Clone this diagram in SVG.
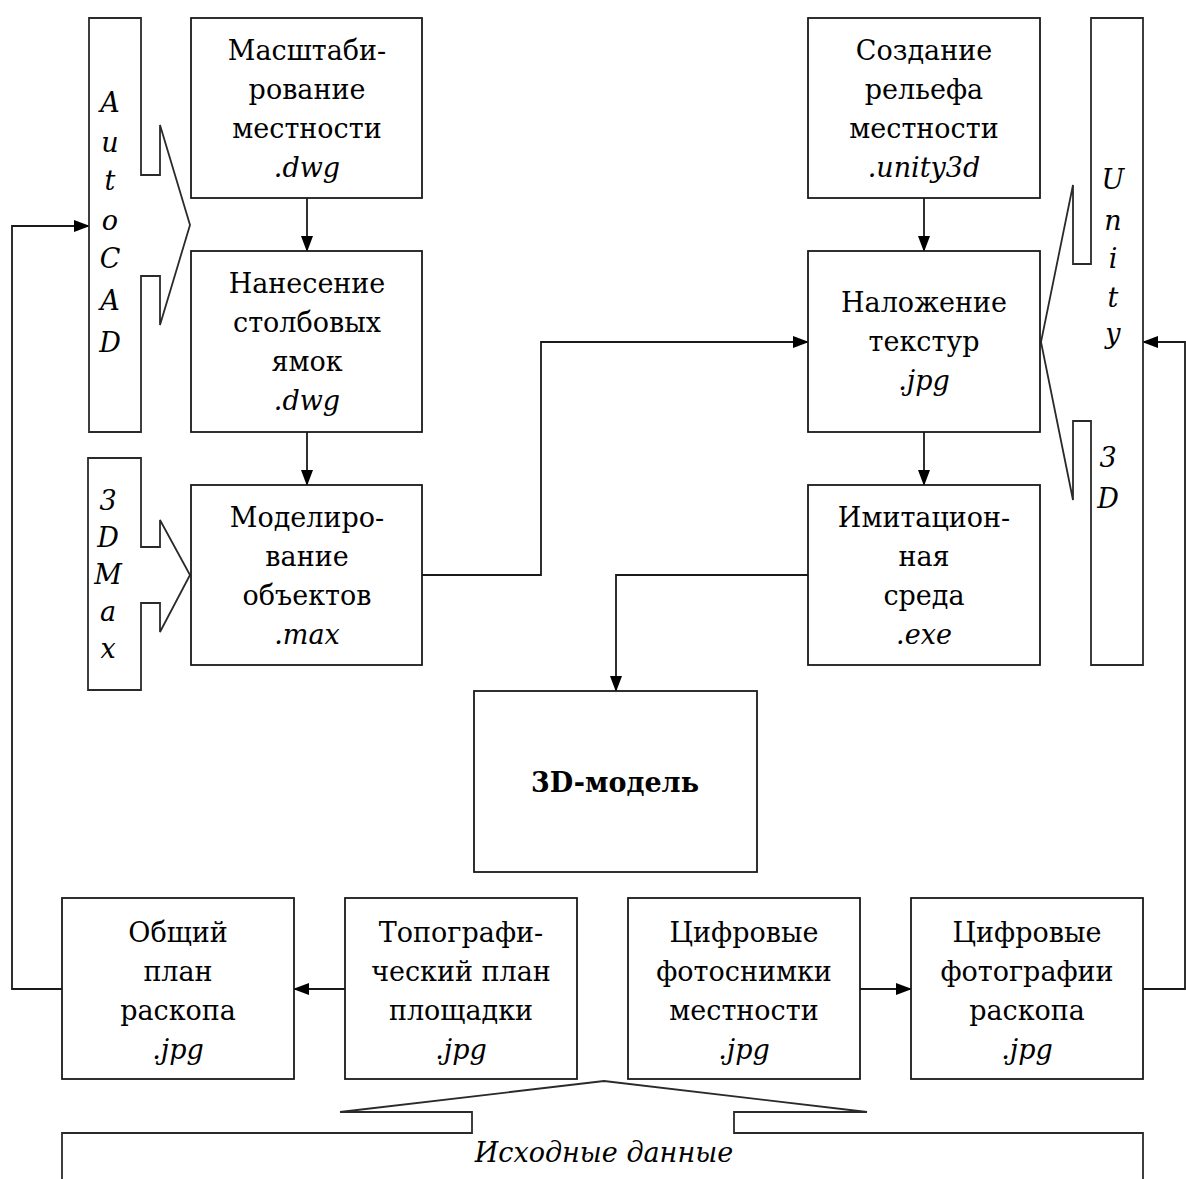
<svg xmlns="http://www.w3.org/2000/svg" width="1186" height="1179" viewBox="0 0 1186 1179">
<style>
.box{fill:#fff;stroke:#1a1a1a;stroke-width:1.8}
.call{fill:#fff;stroke:#2a2a2a;stroke-width:1.8;stroke-linejoin:miter}
.t{font-family:"DejaVu Serif","Liberation Serif",serif;font-size:27px;fill:#000;text-anchor:middle}
.i{font-style:italic}
.b{font-weight:bold}
.v{font-family:"DejaVu Serif","Liberation Serif",serif;font-size:27px;font-style:italic;fill:#000;text-anchor:middle}
.c{fill:none;stroke:#1a1a1a;stroke-width:1.8}
</style>
<defs>
<marker id="ar" markerWidth="16" markerHeight="12" refX="15" refY="6" orient="auto" markerUnits="userSpaceOnUse">
<path d="M0,0 L16,6 L0,12 Z" fill="#000"/>
</marker>
</defs>
<rect width="1186" height="1179" fill="#fff"/>

<g id="connectors">
<path class="c" d="M307,198 V251" marker-end="url(#ar)"/>
<path class="c" d="M307,432 V485" marker-end="url(#ar)"/>
<path class="c" d="M924,198 V251" marker-end="url(#ar)"/>
<path class="c" d="M924,432 V485" marker-end="url(#ar)"/>
<path class="c" d="M422,575 H541 V342 H808" marker-end="url(#ar)"/>
<path class="c" d="M808,575 H616 V691" marker-end="url(#ar)"/>
<path class="c" d="M345,989 H294" marker-end="url(#ar)"/>
<path class="c" d="M860,989 H911" marker-end="url(#ar)"/>
<path class="c" d="M62,989 H12 V226 H89" marker-end="url(#ar)"/>
<path class="c" d="M1143,989 H1185 V342 H1143" marker-end="url(#ar)"/>
</g>

<g id="autocad">
<path class="call" d="M89,18 H141 V175 H160 V125 L190,225 L160,325 V276 H141 V432 H89 Z"/>
<text class="v" x="110" y="112">A</text>
<text class="v" x="110" y="152">u</text>
<text class="v" x="110" y="190">t</text>
<text class="v" x="110" y="230">o</text>
<text class="v" x="110" y="268">C</text>
<text class="v" x="110" y="310">A</text>
<text class="v" x="110" y="352">D</text>
</g>

<g id="max3d">
<path class="call" d="M88,458 H141 V547 H160 V520 L190,575 L160,632 V603 H141 V690 H88 Z"/>
<text class="v" x="108" y="510">3</text>
<text class="v" x="108" y="547">D</text>
<text class="v" x="108" y="584">M</text>
<text class="v" x="108" y="621">a</text>
<text class="v" x="108" y="658">x</text>
</g>

<g id="unity3d">
<path class="call" d="M1091,18 H1143 V665 H1091 V421 H1073 V500 L1041,342 L1073,185 V264 H1091 Z"/>
<text class="v" x="1113" y="189">U</text>
<text class="v" x="1113" y="230">n</text>
<text class="v" x="1113" y="268">i</text>
<text class="v" x="1113" y="307">t</text>
<text class="v" x="1113" y="343">y</text>
<text class="v" x="1108" y="467">3</text>
<text class="v" x="1108" y="508">D</text>
</g>

<g id="n-scale">
<rect class="box" x="191" y="18" width="231" height="180"/>
<text class="t" x="307" y="60">Масштаби-</text>
<text class="t" x="307" y="99">рование</text>
<text class="t" x="307" y="138">местности</text>
<text class="t i" x="307" y="177">.dwg</text>
</g>

<g id="n-pits">
<rect class="box" x="191" y="251" width="231" height="181"/>
<text class="t" x="307" y="293">Нанесение</text>
<text class="t" x="307" y="332">столбовых</text>
<text class="t" x="307" y="371">ямок</text>
<text class="t i" x="307" y="410">.dwg</text>
</g>

<g id="n-model">
<rect class="box" x="191" y="485" width="231" height="180"/>
<text class="t" x="307" y="527">Моделиро-</text>
<text class="t" x="307" y="566">вание</text>
<text class="t" x="307" y="605">объектов</text>
<text class="t i" x="307" y="644">.max</text>
</g>

<g id="n-relief">
<rect class="box" x="808" y="18" width="232" height="180"/>
<text class="t" x="924" y="60">Создание</text>
<text class="t" x="924" y="99">рельефа</text>
<text class="t" x="924" y="138">местности</text>
<text class="t i" x="924" y="177">.unity3d</text>
</g>

<g id="n-texture">
<rect class="box" x="808" y="251" width="232" height="181"/>
<text class="t" x="924" y="312">Наложение</text>
<text class="t" x="924" y="351">текстур</text>
<text class="t i" x="924" y="390">.jpg</text>
</g>

<g id="n-sim">
<rect class="box" x="808" y="485" width="232" height="180"/>
<text class="t" x="924" y="527">Имитацион-</text>
<text class="t" x="924" y="566">ная</text>
<text class="t" x="924" y="605">среда</text>
<text class="t i" x="924" y="644">.exe</text>
</g>

<g id="n-3d">
<rect class="box" x="474" y="691" width="283" height="181"/>
<text class="t b" x="615" y="792">3D-модель</text>
</g>

<g id="n-general">
<rect class="box" x="62" y="898" width="232" height="181"/>
<text class="t" x="178" y="942">Общий</text>
<text class="t" x="178" y="981">план</text>
<text class="t" x="178" y="1020">раскопа</text>
<text class="t i" x="178" y="1059">.jpg</text>
</g>

<g id="n-topo">
<rect class="box" x="345" y="898" width="232" height="181"/>
<text class="t" x="461" y="942">Топографи-</text>
<text class="t" x="461" y="981">ческий план</text>
<text class="t" x="461" y="1020">площадки</text>
<text class="t i" x="461" y="1059">.jpg</text>
</g>

<g id="n-photo-area">
<rect class="box" x="628" y="898" width="232" height="181"/>
<text class="t" x="744" y="942">Цифровые</text>
<text class="t" x="744" y="981">фотоснимки</text>
<text class="t" x="744" y="1020">местности</text>
<text class="t i" x="744" y="1059">.jpg</text>
</g>

<g id="n-photo-dig">
<rect class="box" x="911" y="898" width="232" height="181"/>
<text class="t" x="1027" y="942">Цифровые</text>
<text class="t" x="1027" y="981">фотографии</text>
<text class="t" x="1027" y="1020">раскопа</text>
<text class="t i" x="1027" y="1059">.jpg</text>
</g>

<g id="source-data">
<path class="call" d="M62,1185 V1133 H472 V1112 H340 L604,1081 L867,1112 H734 V1133 H1143 V1185"/>
<text class="t i" x="604" y="1162">Исходные данные</text>
</g>
</svg>
